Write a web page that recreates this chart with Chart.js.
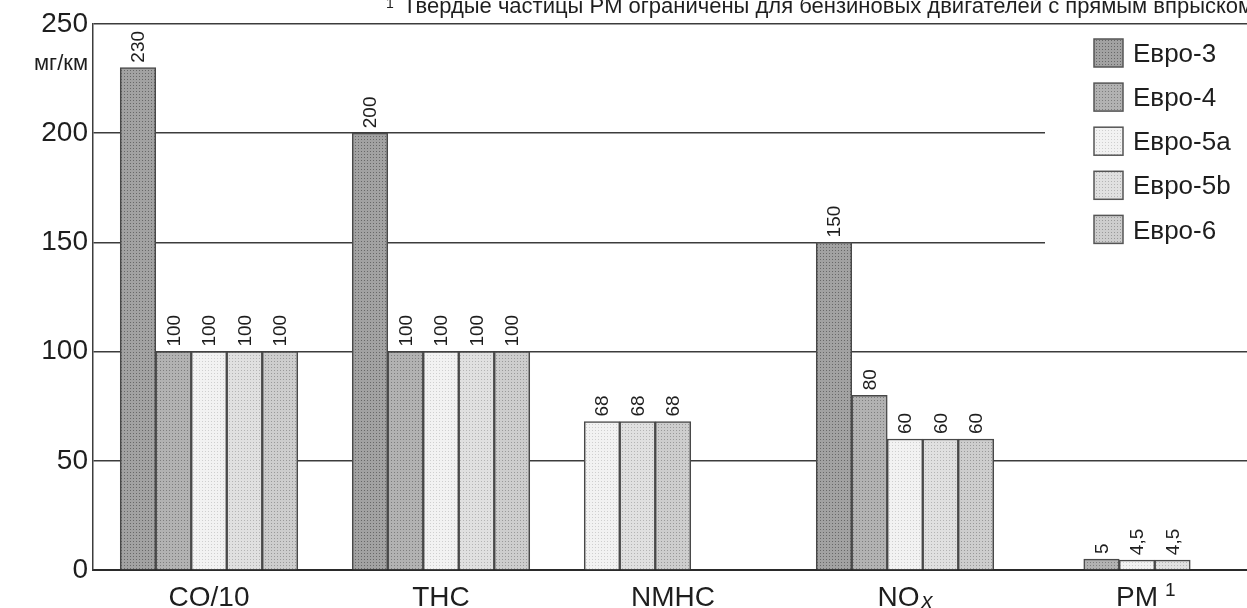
<!DOCTYPE html>
<html>
<head>
<meta charset="utf-8">
<script src="https://cdn.jsdelivr.net/npm/chart.js@4.4.0/dist/chart.umd.min.js"></script>
<style>
  html, body { margin: 0; padding: 0; background: #fff; overflow: hidden; }
  #wrap { position: relative; width: 1260px; height: 608px; }
</style>
</head>
<body>
<div id="wrap"><canvas id="c"></canvas></div>
<script>
// Emission limits, mg/km (CO shown divided by 10)
const categories = ['CO/10', 'THC', 'NMHC', 'NOx', 'PM'];
const seriesNames = ['Евро-3', 'Евро-4', 'Евро-5a', 'Евро-5b', 'Евро-6'];
const euro3  = [230, 200, null, 150, null];
const euro4  = [100, 100, null, 80, 5];
const euro5a = [100, 100, 68, 60, 4.5];
const euro5b = [100, 100, 68, 60, 4.5];
const euro6  = [100, 100, 68, 60, null];
// empty slots so the NMHC bars sit packed to the left of a five-bar group
const nmhcPad = [null, null, 0, null, null];
const yTicks = [0, 50, 100, 150, 200, 250];
const unitLabel = 'мг/км';
const footnote = 'Твердые частицы PM ограничены для бензиновых двигателей с прямым впрыском';

const FONT = '"Liberation Sans", Arial, Helvetica, sans-serif';
const INK = '#1e1e1e';

const canvas = document.getElementById('c');
const ctx0 = canvas.getContext('2d');

// grey halftone (dot screen) fills
function halftone(base, dot) {
  const t = document.createElement('canvas');
  t.width = 3; t.height = 3;
  const g = t.getContext('2d');
  g.fillStyle = base; g.fillRect(0, 0, 3, 3);
  g.fillStyle = dot; g.fillRect(1, 1, 1, 1);
  return ctx0.createPattern(t, 'repeat');
}
const fills = [
  halftone('#a2a2a2', '#686868'),
  halftone('#b2b2b2', '#7e7e7e'),
  halftone('#f2f2f2', '#cfcfcf'),
  halftone('#e0e0e0', '#b4b4b4'),
  halftone('#cdcdcd', '#999999')
];

const seriesData = [euro3, euro4, euro5a, euro5b, euro6];
const datasets = seriesData.map((d, i) => ({
  label: seriesNames[i],
  data: d,
  backgroundColor: fills[i],
  borderColor: '#484848',
  borderWidth: 1.5,
  borderSkipped: 'start'
}));
['pad1', 'pad2'].forEach(id => datasets.push({
  label: id, data: nmhcPad, spacer: true,
  backgroundColor: 'rgba(0,0,0,0)', borderWidth: 0
}));

const fmt = v => String(v).replace('.', ',');

// vertical value labels above each bar
const valueLabels = {
  id: 'valueLabels',
  afterDatasetsDraw(chart) {
    const ctx = chart.ctx;
    ctx.save();
    ctx.font = '19px ' + FONT;
    ctx.fillStyle = INK;
    ctx.textAlign = 'left';
    ctx.textBaseline = 'middle';
    chart.data.datasets.forEach((ds, i) => {
      if (ds.spacer) return;
      chart.getDatasetMeta(i).data.forEach((bar, j) => {
        const v = ds.data[j];
        if (v == null) return;
        ctx.save();
        ctx.translate(bar.x + 1, bar.y - 5);
        ctx.rotate(-Math.PI / 2);
        ctx.fillText(fmt(v), 0, 0);
        ctx.restore();
      });
    });
    ctx.restore();
  }
};

// category names with sub/superscripts, unit, footnote and legend
const decorations = {
  id: 'decorations',
  afterDraw(chart) {
    const ctx = chart.ctx;
    const xs = chart.scales.x;
    const ys = chart.scales.y;
    const area = chart.chartArea;
    ctx.save();
    ctx.fillStyle = INK;
    ctx.textBaseline = 'alphabetic';

    // category labels
    const base = area.bottom + 36;
    categories.forEach((c, i) => {
      const cx = xs.getPixelForValue(i);
      ctx.font = '28px ' + FONT;
      if (c === 'NOx') {
        const wMain = ctx.measureText('NO').width;
        ctx.font = 'italic 22px ' + FONT;
        const wSub = ctx.measureText('x').width;
        const x0 = cx - (wMain + 2 + wSub) / 2;
        ctx.font = '28px ' + FONT;
        ctx.textAlign = 'left';
        ctx.fillText('NO', x0, base);
        ctx.font = 'italic 22px ' + FONT;
        ctx.fillText('x', x0 + wMain + 2, base + 2);
      } else if (c === 'PM') {
        const wMain = ctx.measureText('PM').width;
        ctx.textAlign = 'left';
        ctx.fillText('PM', cx - wMain / 2, base);
        ctx.font = '19px ' + FONT;
        ctx.fillText('1', cx + wMain / 2 + 7, base - 10);
      } else {
        ctx.textAlign = 'center';
        ctx.fillText(c, cx, base);
      }
    });

    // unit under the top tick
    ctx.font = '22px ' + FONT;
    ctx.textAlign = 'right';
    ctx.fillText(unitLabel, ys.left + ys.width - 5, area.top + 46);

    // footnote above the frame
    ctx.textAlign = 'left';
    ctx.font = '14px ' + FONT;
    ctx.fillText('1', 386, 8);
    ctx.font = '22px ' + FONT;
    ctx.fillText(footnote, 403, 13);

    // legend panel
    const lx = 1045, ly = 28;
    ctx.fillStyle = '#fff';
    ctx.fillRect(lx, ly, 220, 222);
    seriesNames.forEach((name, i) => {
      const cy = 53 + i * 44.1;
      ctx.fillStyle = fills[i];
      ctx.fillRect(1094, cy - 14, 29, 28);
      ctx.strokeStyle = '#555';
      ctx.lineWidth = 1.5;
      ctx.strokeRect(1094, cy - 14, 29, 28);
      ctx.fillStyle = INK;
      ctx.font = '26px ' + FONT;
      ctx.textAlign = 'left';
      ctx.textBaseline = 'middle';
      ctx.fillText(name, 1133, cy + 2);
    });
    ctx.restore();
  }
};

new Chart(canvas, {
  type: 'bar',
  data: { labels: categories, datasets },
  options: {
    responsive: true,
    maintainAspectRatio: false,
    animation: false,
    devicePixelRatio: 1,
    layout: { padding: { top: 24, right: 7, bottom: 38, left: 0 } },
    datasets: {
      bar: { skipNull: true, barThickness: 35.5, grouped: true }
    },
    plugins: {
      legend: { display: false },
      tooltip: { enabled: false }
    },
    scales: {
      x: {
        grid: { display: false, drawTicks: false },
        ticks: { display: false },
        border: { display: true, color: '#2a2a2a', width: 2 },
        afterFit(s) { s.height = 0; }
      },
      y: {
        min: 0, max: 250,
        afterBuildTicks(s) { s.ticks = yTicks.map(v => ({ value: v })); },
        afterFit(s) { s.width = 93; },
        ticks: {
          font: { family: FONT, size: 28 },
          color: INK,
          padding: 5
        },
        grid: { color: '#3c3c3c', lineWidth: 1.5, drawTicks: false },
        border: { display: true, color: '#3c3c3c', width: 1.5 }
      }
    }
  },
  plugins: [valueLabels, decorations]
});
</script>
</body>
</html>
